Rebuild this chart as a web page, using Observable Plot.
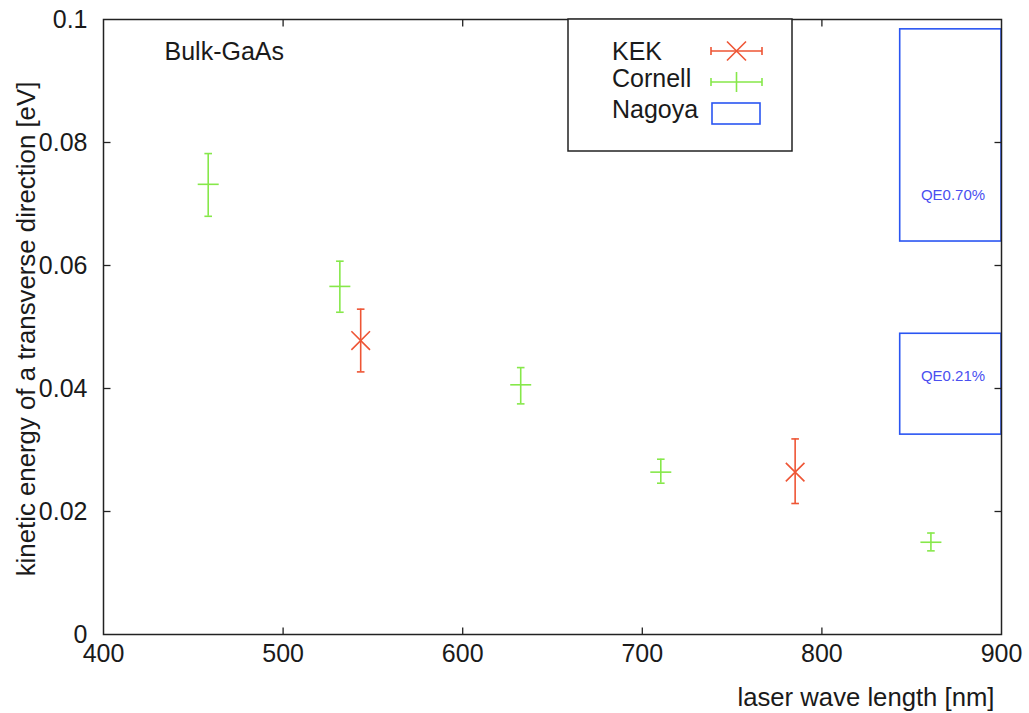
<!DOCTYPE html>
<html>
<head>
<meta charset="utf-8">
<script src="https://cdn.jsdelivr.net/npm/d3@7"></script>
<script src="https://cdn.jsdelivr.net/npm/@observablehq/plot@0.6"></script>
<style>
  html, body { margin: 0; padding: 0; background: #fff; }
  #chart { width: 1029px; height: 713px; position: relative; }
</style>
</head>
<body>
<div id="chart"></div>
<script>
// ---- data ----
const xTicks = [400, 500, 600, 700, 800, 900];
const yTicks = [0, 0.02, 0.04, 0.06, 0.08, 0.1];

const kekX  = [543.2, 785.1];
const kekY  = [0.0478, 0.0264];
const kekLo = [0.0427, 0.0213];
const kekHi = [0.0529, 0.0318];

const cornellX  = [458.3, 531.6, 632.3, 710.3, 860.7];
const cornellY  = [0.0732, 0.0566, 0.0406, 0.0264, 0.0150];
const cornellLo = [0.0680, 0.0524, 0.0375, 0.0246, 0.0136];
const cornellHi = [0.0782, 0.0607, 0.0434, 0.0285, 0.0165];

const nagoyaX1 = [843.6, 843.6];
const nagoyaX2 = [900, 900];
const nagoyaY1 = [0.0639, 0.0325];
const nagoyaY2 = [0.0984, 0.0489];
const nagoyaLabel = ["QE0.70%", "QE0.21%"];
const nagoyaLabelX = [873, 873];
const nagoyaLabelY = [0.0714, 0.0420];

const seriesNames = ["KEK", "Cornell", "Nagoya"];
const xLabel = "laser wave length [nm]";
const yLabel = "kinetic energy of a transverse direction [eV]";
const sampleLabel = "Bulk-GaAs";

// ---- tables ----
const kek = kekX.map((x, i) => ({x, y: kekY[i], lo: kekLo[i], hi: kekHi[i]}));
const cornell = cornellX.map((x, i) => ({x, y: cornellY[i], lo: cornellLo[i], hi: cornellHi[i]}));
const nagoya = nagoyaX1.map((x1, i) => ({x1, x2: nagoyaX2[i], y1: nagoyaY1[i], y2: nagoyaY2[i],
  label: nagoyaLabel[i], lx: nagoyaLabelX[i], ly: nagoyaLabelY[i]}));

const RED = "#ee5535", GREEN = "#86e84a", BLUE = "#2a55f2", QE = "#4a4ff0", INK = "#1a1a1a";

// ---- custom symbols ----
const capSym   = {draw(c) { c.moveTo(-3.8, 0); c.lineTo(3.8, 0); }};
const plusSym  = {draw(c) { c.moveTo(-10.5, 0); c.lineTo(10.5, 0); }};
const timesSym = {draw(c) { c.moveTo(-9.3, -9.3); c.lineTo(9.3, 9.3); c.moveTo(-9.3, 9.3); c.lineTo(9.3, -9.3); }};
const TL = 7;
const tickUp    = {draw(c) { c.moveTo(0, 0); c.lineTo(0, -TL); }};
const tickDown  = {draw(c) { c.moveTo(0, 0); c.lineTo(0, TL); }};
const tickRight = {draw(c) { c.moveTo(0, 0); c.lineTo(TL, 0); }};
const tickLeft  = {draw(c) { c.moveTo(0, 0); c.lineTo(-TL, 0); }};

const yFmt = d => d === 0 ? "0" : String(+d.toFixed(2));

const errMarks = (data, color, sym) => [
  Plot.ruleX(data, {x: "x", y1: "lo", y2: "hi", stroke: color, strokeWidth: 1.6}),
  Plot.dot(data, {x: "x", y: "lo", symbol: capSym, fill: "none", stroke: color, strokeWidth: 1.6}),
  Plot.dot(data, {x: "x", y: "hi", symbol: capSym, fill: "none", stroke: color, strokeWidth: 1.6}),
  Plot.dot(data, {x: "x", y: "y", symbol: sym, fill: "none", stroke: color, strokeWidth: 1.6})
];

const chart = Plot.plot({
  width: 1029,
  height: 713,
  marginTop: 19,
  marginRight: 28,
  marginBottom: 79,
  marginLeft: 103,
  style: {fontFamily: "'Liberation Sans', Arial, sans-serif", fontSize: "25px", color: INK, background: "#fff"},
  x: {domain: [400, 900]},
  y: {domain: [0, 0.1]},
  marks: [
    Plot.rect(nagoya, {x1: "x1", x2: "x2", y1: "y1", y2: "y2", fill: "none", stroke: BLUE, strokeWidth: 1.6}),
    Plot.text(nagoya, {x: "lx", y: "ly", text: "label", fill: QE, fontSize: 15}),
    ...errMarks(cornell, GREEN, plusSym),
    ...errMarks(kek, RED, timesSym),
    Plot.frame({stroke: "#222", strokeWidth: 1.5}),
    Plot.dot(xTicks.slice(1, -1), {x: d => d, frameAnchor: "bottom", symbol: tickUp, fill: "none", stroke: "#222", strokeWidth: 1.3}),
    Plot.dot(xTicks.slice(1, -1), {x: d => d, frameAnchor: "top", symbol: tickDown, fill: "none", stroke: "#222", strokeWidth: 1.3}),
    Plot.dot(yTicks.slice(1, -1), {y: d => d, frameAnchor: "left", symbol: tickRight, fill: "none", stroke: "#222", strokeWidth: 1.3}),
    Plot.dot(yTicks.slice(1, -1), {y: d => d, frameAnchor: "right", symbol: tickLeft, fill: "none", stroke: "#222", strokeWidth: 1.3}),
    Plot.axisX({ticks: xTicks, tickSize: 0, tickPadding: 10, label: null, tickFormat: d => String(d)}),
    Plot.axisY({ticks: yTicks, tickSize: 0, tickPadding: 16, label: null, tickFormat: yFmt}),
    Plot.text([xLabel], {frameAnchor: "bottom-right", textAnchor: "end", lineAnchor: "middle", dx: -7, dy: 63, fontSize: 25.7}),
    Plot.text([yLabel], {frameAnchor: "left", textAnchor: "middle", lineAnchor: "middle", rotate: -90, dx: -77, dy: 2, fontSize: 25.8}),
    Plot.text([sampleLabel], {frameAnchor: "top-left", textAnchor: "start", lineAnchor: "middle", dx: 61, dy: 32})
  ]
});

// ---- legend (key box inside the plot, like gnuplot) ----
const svg = d3.select(chart);
const g = svg.append("g").attr("font-family", "'Liberation Sans', Arial, sans-serif")
  .attr("font-size", 25).attr("fill", INK).attr("text-anchor", "start");
g.append("rect").attr("x", 568).attr("y", 19).attr("width", 224).attr("height", 132)
  .attr("fill", "#fff").attr("stroke", "#222").attr("stroke-width", 1.5);
const rows = [
  {name: seriesNames[0], base: 60, sy: 51, color: RED, kind: "times"},
  {name: seriesNames[1], base: 87, sy: 82, color: GREEN, kind: "plus"},
  {name: seriesNames[2], base: 118, sy: 113.5, color: BLUE, kind: "box"}
];
const sx1 = 711, sx2 = 762, scx = (sx1 + sx2) / 2;
for (const r of rows) {
  g.append("text").attr("x", 612).attr("y", r.base).attr("text-anchor", "start").text(r.name);
  const s = g.append("g").attr("stroke", r.color).attr("stroke-width", 1.6).attr("fill", "none");
  if (r.kind === "box") {
    s.append("rect").attr("x", 712).attr("y", 103).attr("width", 48).attr("height", 21);
  } else {
    s.append("path").attr("d", `M${sx1},${r.sy}H${sx2}M${sx1},${r.sy - 4}V${r.sy + 4}M${sx2},${r.sy - 4}V${r.sy + 4}`);
    if (r.kind === "times") {
      s.append("path").attr("d", `M${scx - 9.5},${r.sy - 9.5}L${scx + 9.5},${r.sy + 9.5}M${scx - 9.5},${r.sy + 9.5}L${scx + 9.5},${r.sy - 9.5}`);
    } else {
      s.append("path").attr("d", `M${scx},${r.sy - 10}V${r.sy + 10}`);
    }
  }
}

document.getElementById("chart").appendChild(chart);
</script>
</body>
</html>
